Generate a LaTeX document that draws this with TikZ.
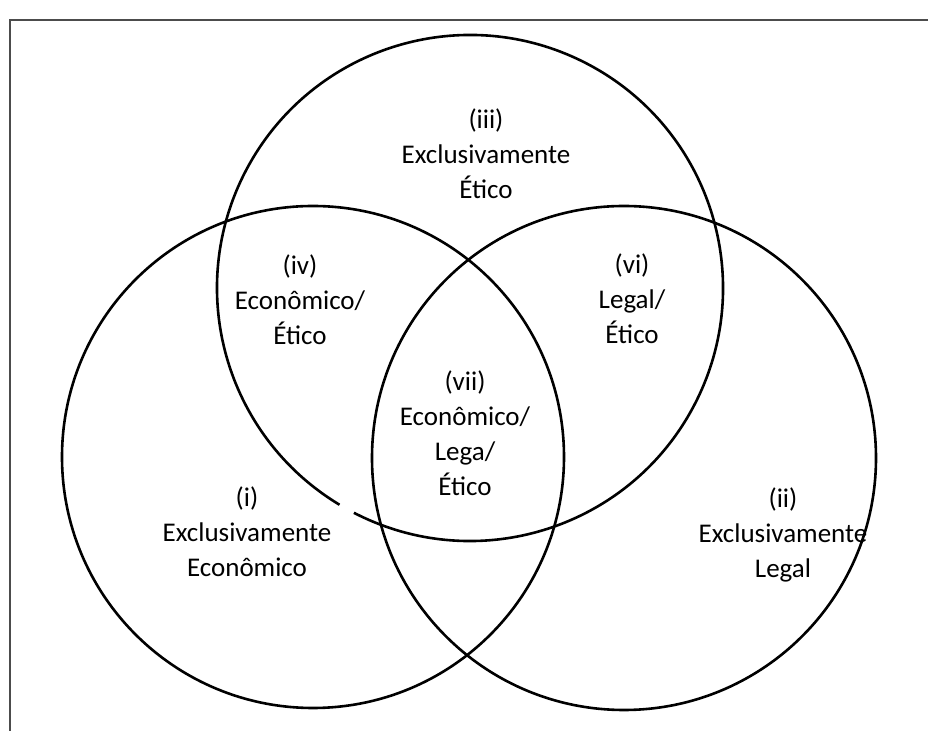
\documentclass[tikz,border=0pt]{standalone}
\usepackage{fontspec}
\setmainfont{Carlito}

\begin{document}
\begin{tikzpicture}[x=0.5pt, y=0.5pt, font=\fontsize{13.5}{17.5}\selectfont]
    \tikzset{ring/.style={draw, line width=1.3pt},
             region/.style={align=center, inner sep=0pt}}
    \useasboundingbox (0,0) rectangle (928,-731);
    \draw[black!70, line width=0.6pt] (928,-20) -- (10,-20) -- (10,-731);
    \draw[ring] (313,-457) circle[radius=251];
    \draw[ring] (624,-458) circle[radius=252];
    \draw[ring] (470,-288) ++(242.7:253) arc[start angle=242.7, end angle=598.96, radius=253];
    \node[region] (eco) at (247,-532) {(i)\\Exclusivamente\\Econômico};
    \node[region] (leg) at (783,-535) {(ii)\\Exclusivamente\\Legal};
    \node[region] (eti) at (486,-154) {(iii)\\Exclusivamente\\Ético};
    \node[region] (ecoeti) at (300,-300) {(iv)\\Econômico/\\Ético};
    \node[region] (legeti) at (632,-299) {(vi)\\Legal/\\Ético};
    \node[region] (todos) at (465,-433) {(vii)\\Econômico/\\Lega/\\Ético};
\end{tikzpicture}
\end{document}
